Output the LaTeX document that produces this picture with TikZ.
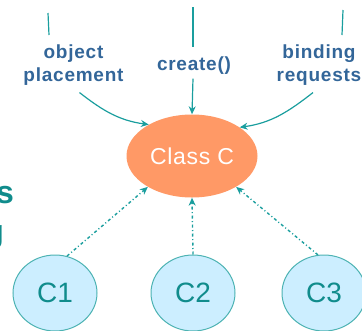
\documentclass[tikz,border=0pt]{standalone}
\usepackage{fontspec}
\setmainfont{Liberation Sans}
\newfontfamily\labelfont{Liberation Sans}[LetterSpace=4]
\newfontfamily\classfont{Liberation Sans}[LetterSpace=3]
\usetikzlibrary{arrows.meta,shapes.geometric}

\definecolor{labelblue}{HTML}{336699}
\definecolor{linkteal}{HTML}{1A9E9E}
\definecolor{classorange}{HTML}{FF9966}
\definecolor{instfill}{HTML}{CCEEFF}
\definecolor{instedge}{HTML}{4DB3B3}
\definecolor{insttext}{HTML}{108C8C}

\tikzset{
  lbl/.style={font=\labelfont\bfseries\fontsize{19}{23}\selectfont,
    text=labelblue, align=center, inner sep=0pt},
  sidetext/.style={font=\bfseries\fontsize{32}{38}\selectfont,
    text=insttext, inner sep=0pt},
  flow/.style={draw=linkteal, line width=1.2pt},
  flowarrow/.style={flow, -{Stealth[length=8pt,width=7pt]}},
  uses/.style={draw=linkteal, line width=1.4pt,
    dash pattern=on 3pt off 2.5pt on 1pt off 2.5pt,
    -{Stealth[length=8pt,width=7pt]}},
  classnode/.style={ellipse, fill=classorange, minimum width=131pt,
    minimum height=83pt, inner sep=0pt, text=white,
    font=\classfont\fontsize{23}{27}\selectfont},
  inst/.style={ellipse, draw=instedge, fill=instfill, line width=1pt,
    minimum width=84pt, minimum height=76pt, inner sep=0pt,
    text=insttext, font=\fontsize{28}{32}\selectfont},
}

\begin{document}
\begin{tikzpicture}[x=1pt,y=1pt]
  \useasboundingbox (0,0) rectangle (362,-330);

  % partially visible side text
  \node[sidetext, anchor=base east] (sides) at (14,-203) {s};
  \node[sidetext, anchor=base east] (sideg) at (4,-242) {g};

  % central class and its instances
  \node[classnode] (classc) at (192,-156) {Class C};
  \node[inst] (c1) at (55,-293) {C1};
  \node[inst] (c2) at (193,-293) {C2};
  \node[inst] (c3) at (324,-293) {C3};

  % incoming requests
  \node[lbl] (objp) at (73.5,-65) {object\\placement};
  \node[lbl] (create) at (194,-65.5) {create()};
  \node[lbl] (bind) at (319,-65) {binding\\requests};

  \coordinate (topl1) at (48,-13);
  \coordinate (topl2) at (49,-35);
  \coordinate (topm1) at (193,-7);
  \coordinate (topm2) at (193,-47);
  \coordinate (topr1) at (343,-10);
  \coordinate (topr2) at (342,-35);
  \draw[flow] (topl1) -- (topl2);
  \draw[flow] (topm1) -- (topm2);
  \draw[flow] (topr1) -- (topr2);

  \draw[flowarrow] ([xshift=6pt,yshift=-7pt]objp.south)
    to[out=-38, in=172] (classc.144);
  \draw[flowarrow] ([xshift=-1pt,yshift=-4pt]create.south) -- (classc.north);
  \draw[flowarrow] ([xshift=-6pt,yshift=-7pt]bind.south)
    to[out=-142, in=8] (classc.31);

  % instances refer to their class
  \draw[uses] (c1.72) -- (classc.215);
  \draw[uses] (c2.north) -- (classc.south);
  \draw[uses] (c3.99) -- (classc.325);
\end{tikzpicture}
\end{document}
